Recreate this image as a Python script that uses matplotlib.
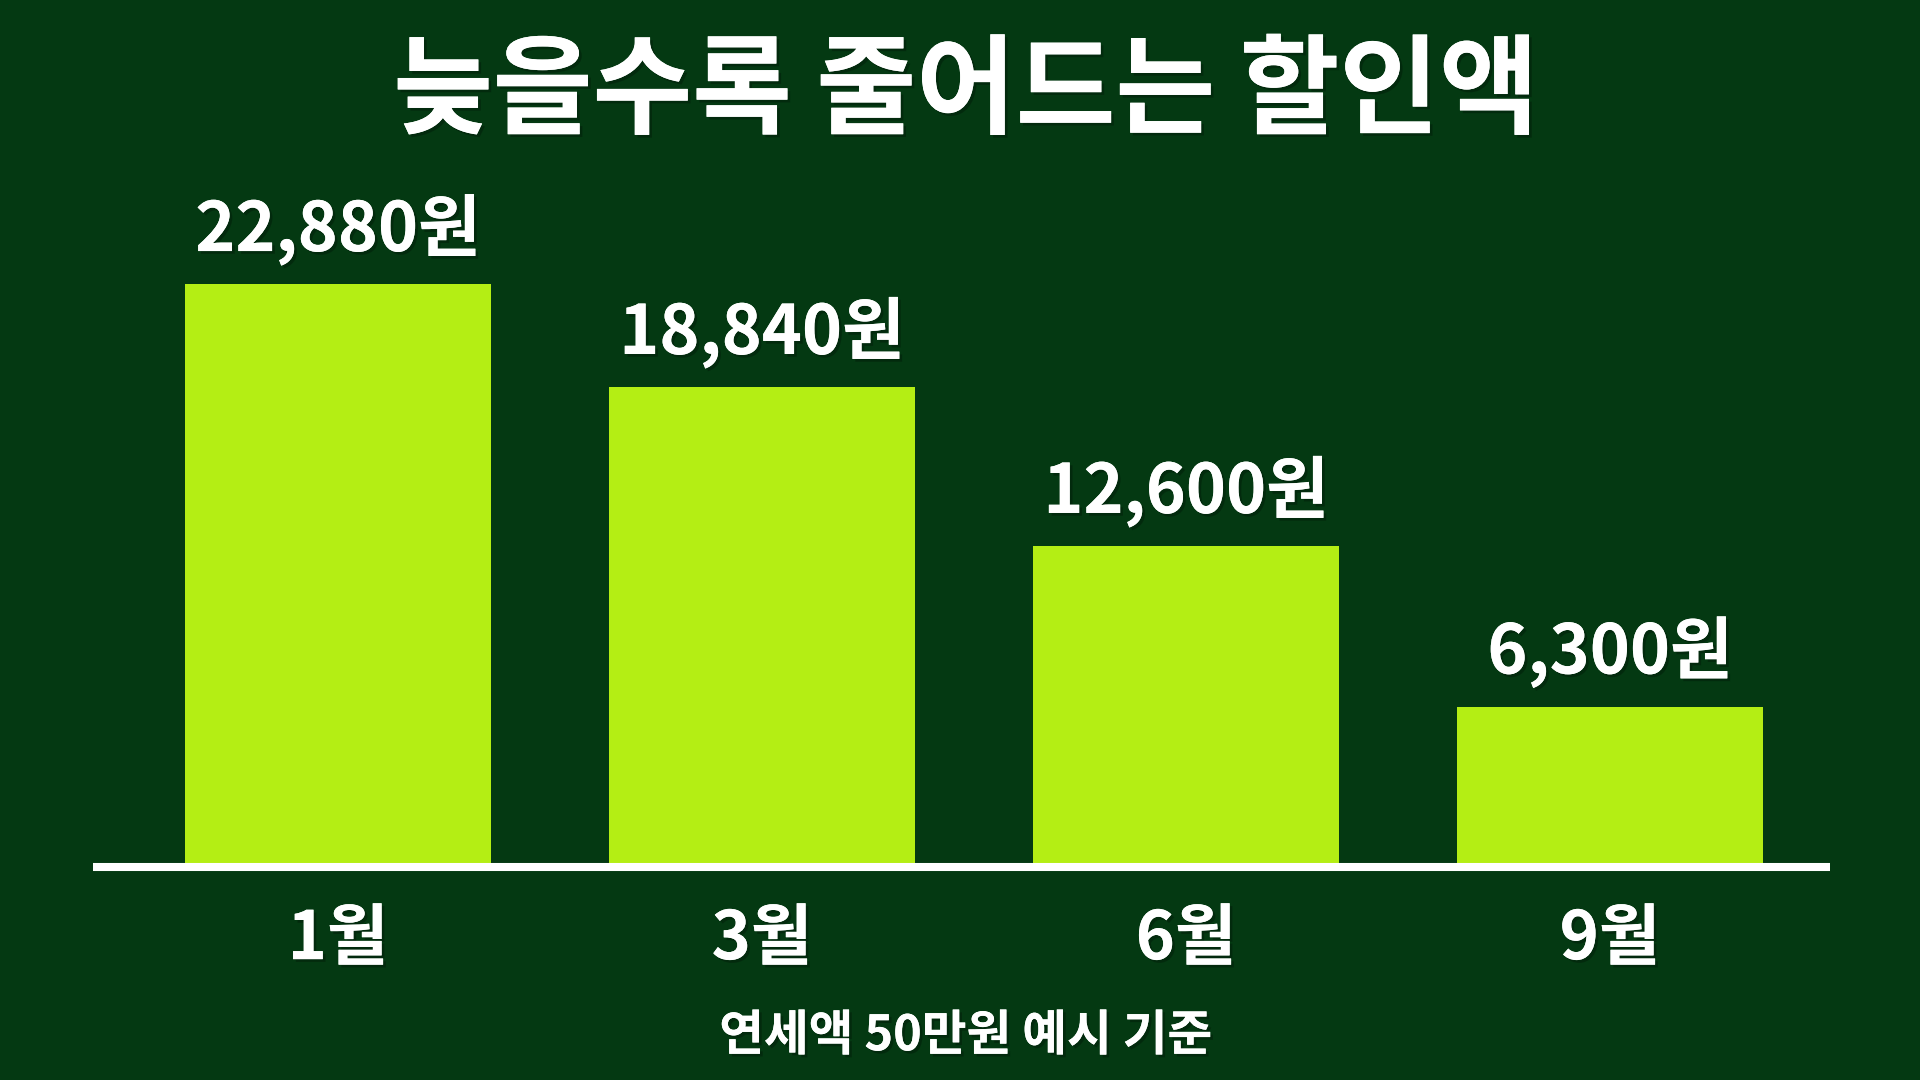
import matplotlib.pyplot as plt
import matplotlib.patheffects as pe

plt.rcParams['font.family'] = ['Noto Sans CJK KR', 'DejaVu Sans']

months = ['1월', '3월', '6월', '9월']
discounts = [22880, 18840, 12600, 6300]
value_labels = ['22,880원', '18,840원', '12,600원', '6,300원']
title = '늦을수록 줄어드는 할인액'
footnote = '연세액 50만원 예시 기준'

bg = '#043912'
bar_color = '#b4ee14'

fig = plt.figure(figsize=(19.2, 10.8), dpi=100, facecolor=bg)
ax = fig.add_axes([0.0484, 0.197, 0.9047, 0.664])
ax.set_facecolor(bg)

shadow = [pe.withSimplePatchShadow(offset=(2, -2), shadow_rgbFace='black', alpha=0.25), pe.Normal()]

x = range(len(months))
bars = ax.bar(x, discounts, width=0.72, color=bar_color, zorder=2)

for rect, lab in zip(bars, value_labels):
    ax.annotate(lab, (rect.get_x() + rect.get_width() / 2, rect.get_height()),
                xytext=(0, 24), textcoords='offset points',
                ha='center', va='baseline', fontsize=49, fontweight='bold',
                color='white', path_effects=shadow)

ax.axhline(0, color='white', linewidth=5.8, solid_capstyle='butt', zorder=3, clip_on=False)

ax.set_xlim(-0.578, 3.519)
ax.set_ylim(0, 28150)
ax.set_xticks(list(x), months)
ax.tick_params(axis='x', length=0, pad=28, labelsize=48, labelcolor='white')
for t in ax.get_xticklabels():
    t.set_fontweight('bold')
    t.set_path_effects(shadow)
ax.set_yticks([])
for s in ax.spines.values():
    s.set_visible(False)

fig.text(0.503, 0.913, title, ha='center', va='center', fontsize=78,
         fontweight='black', color='white', path_effects=shadow)
fig.text(0.503, 0.041, footnote, ha='center', va='center', fontsize=35,
         fontweight='bold', color='white', path_effects=shadow)

fig.savefig('out.png', dpi=100, facecolor=bg)
